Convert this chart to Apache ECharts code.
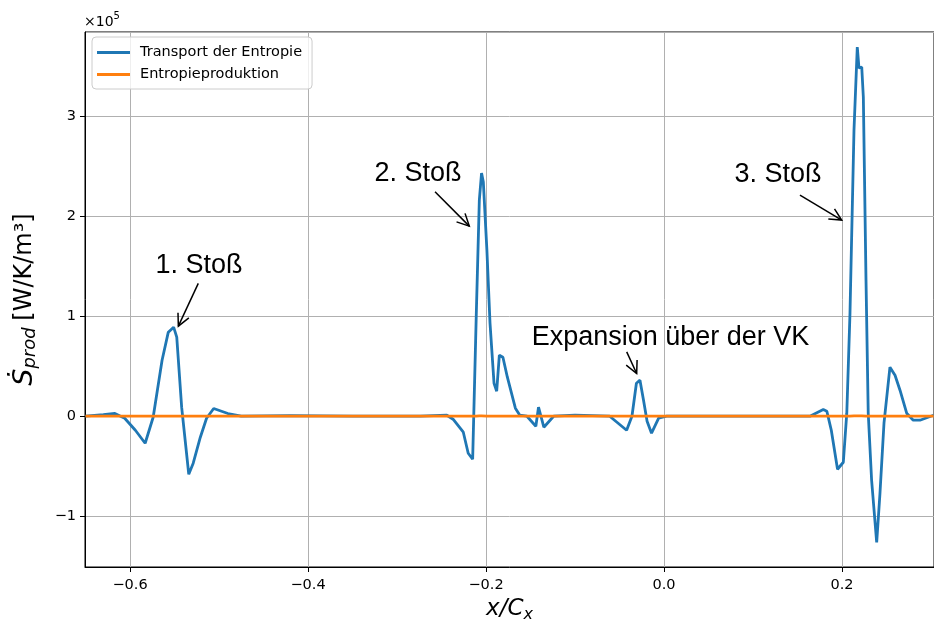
<!DOCTYPE html>
<html>
<head>
<meta charset="utf-8">
<script src="https://cdn.jsdelivr.net/npm/echarts@6/dist/echarts.min.js"></script>
<style>
  html, body { margin: 0; padding: 0; background: #fff; }
  #chart { width: 934px; height: 619px; }
</style>
</head>
<body>
<div id="chart"></div>
<script>
// Axial position x/C_x of each sample
const xPos = [
  -0.650, -0.630, -0.617, -0.606, -0.594, -0.583, -0.574, -0.564, -0.557, -0.551,
  -0.5475, -0.542, -0.534, -0.529, -0.521, -0.514, -0.506, -0.490, -0.475, -0.420,
  -0.350, -0.300, -0.274, -0.244, -0.237, -0.2255, -0.220, -0.215, -0.211, -0.2075,
  -0.205, -0.203, -0.199, -0.1955, -0.191, -0.188, -0.185, -0.181, -0.176, -0.167,
  -0.162, -0.154, -0.144, -0.141, -0.135, -0.124, -0.100, -0.061, -0.042, -0.036,
  -0.031, -0.027, -0.023, -0.019, -0.014, -0.006, 0.003, 0.060, 0.130, 0.164,
  0.179, 0.183, 0.188, 0.195, 0.2015, 0.2054, 0.209, 0.2135, 0.2172, 0.2191,
  0.2222, 0.224, 0.227, 0.2295, 0.2333, 0.239, 0.2427, 0.2472, 0.2539, 0.2596,
  0.2652, 0.2727, 0.2801, 0.2876, 0.303
];

// Transport der Entropie, in units of 1e5 W/K/m³
const transport = [
  0.00, 0.015, 0.027, -0.02, -0.14, -0.27, -0.01, 0.56, 0.84, 0.89,
  0.79, 0.09, -0.58, -0.47, -0.21, -0.02, 0.077, 0.027, 0.00, 0.005,
  0.00, 0.00, 0.00, 0.01, -0.03, -0.16, -0.37, -0.43, 0.99, 2.16,
  2.43, 2.34, 1.66, 0.93, 0.33, 0.25, 0.61, 0.59, 0.39, 0.08,
  0.01, 0.00, -0.10, 0.09, -0.11, 0.00, 0.01, 0.00, -0.14, 0.00,
  0.33, 0.36, 0.16, -0.05, -0.17, -0.02, 0.00, 0.00, 0.00, 0.00,
  0.067, 0.05, -0.14, -0.53, -0.46, 0.03, 1.03, 2.86, 3.69, 3.48,
  3.49, 3.19, 1.36, 0.03, -0.64, -1.26, -0.77, -0.07, 0.49, 0.41,
  0.26, 0.03, -0.04, -0.04, 0.01
];

// Entropieproduktion, in units of 1e5 W/K/m³
const production = [
  0, 0, 0, 0, 0, 0, 0, 0, 0, 0,
  0, 0, 0, 0, 0, 0, 0, 0, 0, 0,
  0, 0, 0, 0, 0, 0, 0, 0, 0, 0.004,
  0.004, 0.004, 0, 0, 0, 0, 0, 0, 0, 0,
  0, 0, 0, 0, 0, 0, 0, 0, 0, 0,
  0, 0, 0, 0, 0, 0, 0, 0, 0, 0,
  0, 0, 0, 0, 0, 0, 0, 0.004, 0.004, 0.004,
  0.004, 0, 0, 0, 0, 0, 0, 0, 0, 0,
  0, 0, 0, 0, 0
];

const seriesNames = ['Transport der Entropie', 'Entropieproduktion'];
const xTickStep = 0.2;
const yTickStep = 1;

// Labelled arrows: text centre, arrow tail and arrow tip (data coordinates)
const notes = [
  { text: '1. Stoß', at: [-0.5225, 1.51], from: [-0.5233, 1.327], to: [-0.5457, 0.90] },
  { text: '2. Stoß', at: [-0.2764, 2.43], from: [-0.2573, 2.243], to: [-0.2188, 1.90] },
  { text: '3. Stoß', at: [0.1281, 2.42], from: [0.1528, 2.21], to: [0.1997, 1.96] },
  { text: 'Expansion über der VK', at: [0.0073, 0.79], from: [-0.0419, 0.643], to: [-0.0307, 0.427] }
];

const toPairs = (xs, ys) => xs.map((x, i) => [x, ys[i]]);
const onStep = (v, step) => Math.abs(v / step - Math.round(v / step)) < 1e-6;
const minus = s => s.replace('-', '\u2212');

const chart = echarts.init(document.getElementById('chart'), null, { renderer: 'canvas' });

const tickFont = { fontFamily: 'DejaVu Sans', fontSize: 14.5, color: '#000' };

chart.setOption({
  animation: false,
  backgroundColor: '#fff',
  grid: {
    left: 85, right: 0, top: 32, bottom: 52,
    outerBoundsMode: 'none', containLabel: false,
    show: true, borderColor: '#000', borderWidth: 1, backgroundColor: 'transparent'
  },
  legend: {
    orient: 'vertical',
    left: 92, top: 37,
    data: seriesNames,
    icon: 'rect',
    itemWidth: 33, itemHeight: 3,
    itemGap: 7,
    padding: [8, 10, 7, 5],
    backgroundColor: 'rgba(255,255,255,0.8)',
    borderColor: '#cccccc', borderWidth: 1, borderRadius: 4,
    textStyle: { fontFamily: 'DejaVu Sans', fontSize: 14.5, color: '#000', padding: [0, 0, 0, 5], lineHeight: 15 }
  },
  graphic: [{
    type: 'text', left: 84, top: 11,
    style: {
      text: '{a|\u00d710}{b|5}',
      rich: {
        a: { fontFamily: 'DejaVu Sans', fontSize: 14, color: '#000', lineHeight: 18, verticalAlign: 'bottom' },
        b: { fontFamily: 'DejaVu Sans', fontSize: 10, color: '#000', verticalAlign: 'top', padding: [0, 0, 6, 0] }
      }
    }
  }],
  xAxis: {
    type: 'value',
    min: -0.6506, max: 0.3034,
    splitNumber: 5,
    name: '{i|x/C}{s|x}',
    nameLocation: 'middle', nameGap: 28,
    nameTextStyle: {
      rich: {
        i: { fontFamily: 'DejaVu Sans', fontStyle: 'italic', fontSize: 23, color: '#000' },
        s: { fontFamily: 'DejaVu Sans', fontStyle: 'italic', fontSize: 16, color: '#000', verticalAlign: 'bottom', padding: [10, 0, 0, 0] }
      }
    },
    axisLine: { show: true, onZero: false, lineStyle: { color: '#000', width: 1 } },
    axisTick: { show: true, length: 5, lineStyle: { color: '#000' } },
    axisLabel: {
      ...tickFont, margin: 11, showMinLabel: false, showMaxLabel: false,
      formatter: v => onStep(v, xTickStep) ? minus(v.toFixed(1)) : ''
    },
    splitLine: { show: true, lineStyle: { color: '#b0b0b0', width: 1 } }
  },
  yAxis: {
    type: 'value',
    min: -1.507, max: 3.84,
    splitNumber: 5,
    name: '{d|\u1e60}{s|prod}  {u|[W/K/m\u00b3]}',
    nameLocation: 'middle', nameGap: 46, nameRotate: 90,
    nameTextStyle: {
      rich: {
        d: { fontFamily: 'DejaVu Sans', fontStyle: 'italic', fontSize: 27, color: '#000' },
        s: { fontFamily: 'DejaVu Sans', fontStyle: 'italic', fontSize: 18, color: '#000', verticalAlign: 'bottom', padding: [11, 0, 0, 0] },
        u: { fontFamily: 'DejaVu Sans', fontSize: 24, color: '#000' }
      }
    },
    axisLine: { show: true, onZero: false, lineStyle: { color: '#000', width: 1 } },
    axisTick: { show: true, length: 5, lineStyle: { color: '#000' } },
    axisLabel: {
      ...tickFont, margin: 9, showMinLabel: false, showMaxLabel: false,
      formatter: v => onStep(v, yTickStep) ? minus(String(Math.round(v))) : ''
    },
    splitLine: { show: true, lineStyle: { color: '#b0b0b0', width: 1 } }
  },
  series: [
    {
      name: seriesNames[0], type: 'line', data: toPairs(xPos, transport),
      showSymbol: false, symbol: 'none', smooth: false,
      lineStyle: { color: '#1f77b4', width: 2.8 }, itemStyle: { color: '#1f77b4' },
      z: 3
    },
    {
      name: seriesNames[1], type: 'line', data: toPairs(xPos, production),
      showSymbol: false, symbol: 'none',
      lineStyle: { color: '#ff7f0e', width: 2.8 }, itemStyle: { color: '#ff7f0e' },
      z: 4
    },
    {
      type: 'custom', silent: true, clip: false, z: 5,
      data: notes.map(n => n.at),
      renderItem(params, api) {
        const n = notes[params.dataIndex];
        const t = api.coord(n.at), p0 = api.coord(n.from), p1 = api.coord(n.to);
        const ang = Math.atan2(p1[1] - p0[1], p1[0] - p0[0]);
        const L = 12, W = 6;
        const bx = p1[0] - L * Math.cos(ang), by = p1[1] - L * Math.sin(ang);
        const h1 = [bx + W * Math.sin(ang), by - W * Math.cos(ang)];
        const h2 = [bx - W * Math.sin(ang), by + W * Math.cos(ang)];
        return {
          type: 'group',
          children: [
            { type: 'text', style: { text: n.text, x: t[0], y: t[1], align: 'center', verticalAlign: 'middle',
                fontFamily: 'Liberation Sans', fontSize: 27, fill: '#000' } },
            { type: 'polyline', shape: { points: [p0, p1] }, style: { stroke: '#000', lineWidth: 1.5, fill: null } },
            { type: 'polyline', shape: { points: [h1, p1, h2] }, style: { stroke: '#000', lineWidth: 1.5, fill: null } }
          ]
        };
      }
    }
  ]
});
</script>
</body>
</html>
